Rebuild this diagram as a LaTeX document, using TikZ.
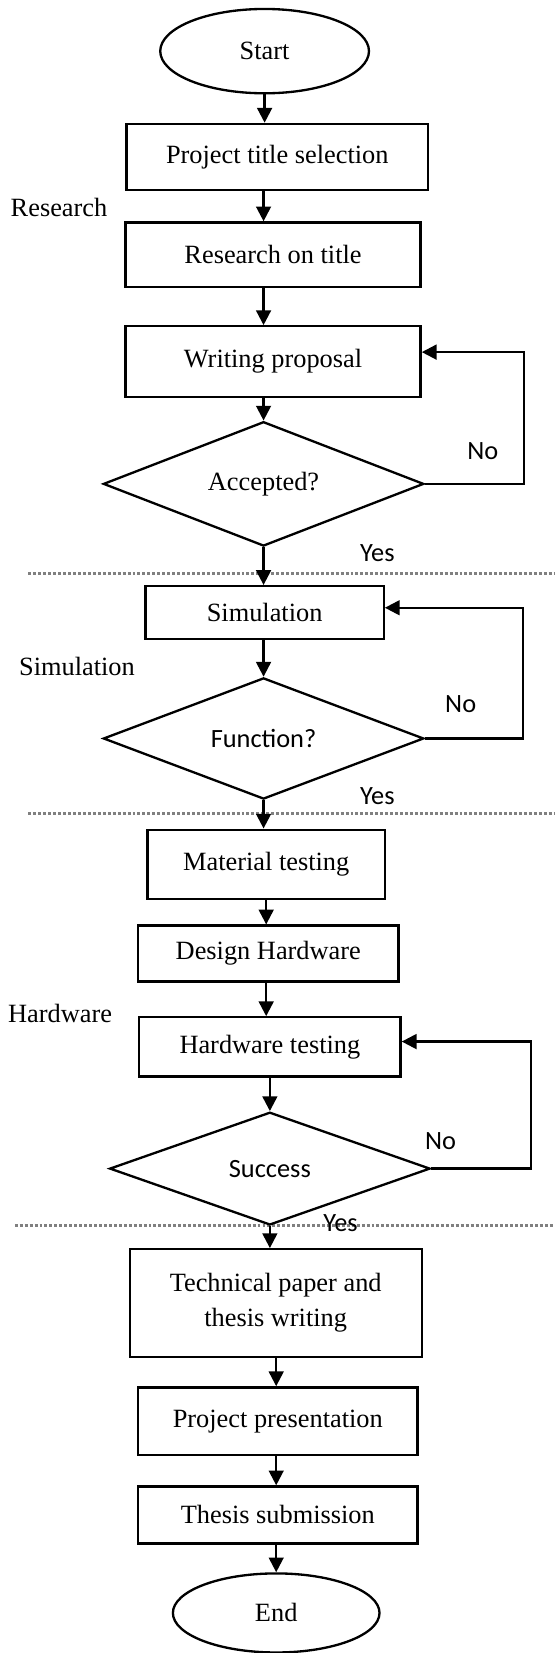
\documentclass[tikz,border=0pt]{standalone}
\usepackage{fontspec}
\setmainfont{Liberation Serif}
\newfontfamily\calib{Carlito}
\usetikzlibrary{shapes.geometric,arrows.meta}
\begin{document}
\begin{tikzpicture}[x=1pt,y=-1pt,
  every node/.style={font=\fontsize{25}{30}\selectfont},
  flowbox/.style={draw,line width=2.2pt,rectangle,inner sep=0pt,align=center},
  flowterm/.style={draw,line width=2.2pt,ellipse,inner sep=0pt},
  flowdec/.style={draw,line width=2.2pt,diamond,inner sep=0pt,aspect=2.6},
  sanslbl/.style={font=\calib\fontsize{25}{30}\selectfont,inner sep=0pt},
  sidelbl/.style={inner sep=0pt},
  arr/.style={line width=2.2pt,-{Triangle[width=14pt,length=14pt]}},
  sepline/.style={draw=black!50,line width=3pt,dash pattern=on 2.8pt off 1.9pt}
]
\useasboundingbox (0,0) rectangle (526,1568);

% phase separators
\coordinate (s1a) at (27,544);  \coordinate (s1b) at (526,544);
\coordinate (s2a) at (27,772);  \coordinate (s2b) at (526,772);
\coordinate (s3a) at (14,1162.5); \coordinate (s3b) at (526,1162.5);
\draw[sepline] (s1a) -- (s1b);
\draw[sepline] (s2a) -- (s2b);
\draw[sepline] (s3a) -- (s3b);

% nodes
\node[flowterm, minimum width=198pt, minimum height=80pt] (start) at (251,48.5) {Start};
\node[flowbox, minimum width=286pt, minimum height=63pt] (b1) at (263,149) {Project title selection};
\node[flowbox, minimum width=280pt, minimum height=61pt] (b2) at (259,241.5) {Research on title};
\node[flowbox, minimum width=280pt, minimum height=67pt] (b3) at (259,343) {Writing proposal};
\node[flowdec, minimum width=304pt, minimum height=118pt] (d1) at (250,459) {Accepted?};

\node[flowbox, minimum width=226pt, minimum height=50pt] (sim) at (251,581) {Simulation};
\node[flowdec, minimum width=304pt, minimum height=115pt, font=\calib\fontsize{25}{30}\selectfont] (d2) at (250,700.5) {Function?};

\node[flowbox, minimum width=225pt, minimum height=66pt] (mat) at (252.5,820) {Material testing};
\node[flowbox, minimum width=247pt, minimum height=53pt] (des) at (254.5,904.5) {Design Hardware};
\node[flowbox, minimum width=248pt, minimum height=56pt] (hwt) at (256,993) {Hardware testing};
\node[flowdec, minimum width=304pt, minimum height=107pt, font=\calib\fontsize{25}{30}\selectfont] (d3) at (256,1108.5) {Success};

\node[flowbox, minimum width=277pt, minimum height=102pt, font=\fontsize{25}{33}\selectfont] (tech) at (261.5,1236) {Technical paper and\\thesis writing};
\node[flowbox, minimum width=265pt, minimum height=64pt] (pres) at (263.5,1348) {Project presentation};
\node[flowbox, minimum width=265pt, minimum height=54pt] (sub) at (263.5,1437) {Thesis submission};
\node[flowterm, minimum width=196pt, minimum height=75pt] (end) at (262,1530) {End};

% side labels
\node[sidelbl] (lres) at (56,197) {Research};
\node[sidelbl] (lsim) at (73,632) {Simulation};
\node[sidelbl] (lhw) at (57,961) {Hardware};

% yes / no labels
\node[sanslbl] (no1) at (458,428) {No};
\node[sanslbl] (yes1) at (358,525) {Yes};
\node[sanslbl] (no2) at (437,668) {No};
\node[sanslbl] (yes2) at (358,755) {Yes};
\node[sanslbl] (no3) at (418,1082) {No};
\node[sanslbl] (yes3) at (323,1160) {Yes};

% main flow
\draw[arr] (start.south) -- (start.south |- b1.north);
\draw[arr] (b1.south -| d1.north) -- (b2.north -| d1.north);
\draw[arr] (b2.south -| d1.north) -- (b3.north -| d1.north);
\draw[arr] (b3.south -| d1.north) -- (d1.north);
\draw[arr] (d1.south) -- (d1.south |- sim.north);
\draw[arr] (sim.south -| d2.north) -- (d2.north);
\draw[arr] (d2.south) -- (d2.south |- mat.north);
\draw[arr] (mat.south) -- (mat.south |- des.north);
\draw[arr] (des.south -| mat.south) -- (hwt.north -| mat.south);
\draw[arr] (hwt.south -| d3.north) -- (d3.north);
\draw[arr] (d3.south) -- (d3.south |- tech.north);
\draw[arr] (tech.south -| end.north) -- (pres.north -| end.north);
\draw[arr] (pres.south -| end.north) -- (sub.north -| end.north);
\draw[arr] (sub.south -| end.north) -- (end.north);

% feedback loops
\coordinate (r1) at (497,334);
\coordinate (r2) at (496,576.5);
\coordinate (r3) at (504,988);
\draw[arr] (d1.east) -| (r1) -- (r1 -| b3.east);
\draw[arr] (d2.east) -| (r2) -- (r2 -| sim.east);
\draw[arr] (d3.east) -| (r3) -- (r3 -| hwt.east);
\end{tikzpicture}
\end{document}
